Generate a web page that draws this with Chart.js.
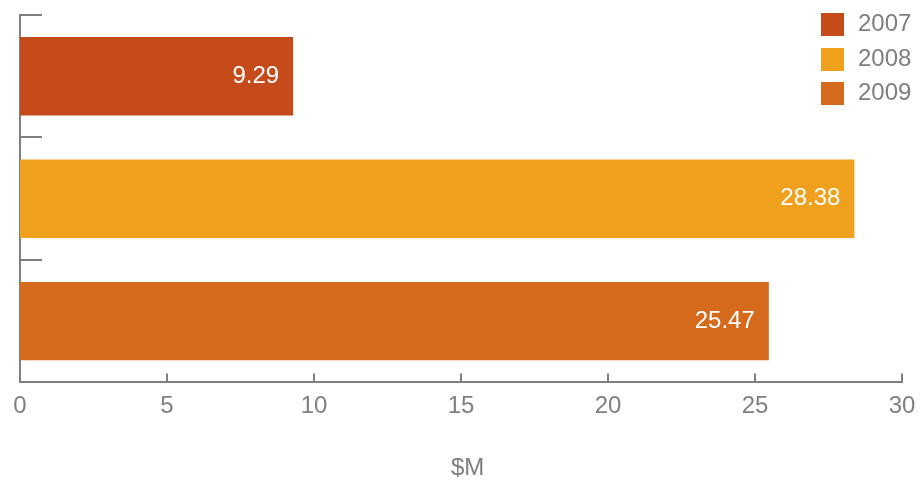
<!DOCTYPE html>
<html>
<head>
<meta charset="utf-8">
<style>
  html, body { margin: 0; padding: 0; background: #ffffff; }
  #wrap { width: 923px; height: 483px; }
</style>
<script src="https://cdn.jsdelivr.net/npm/chart.js@4/dist/chart.umd.min.js"></script>
</head>
<body>
<div id="wrap"><canvas id="chart" width="923" height="483"></canvas></div>
<script>
// Yearly totals in millions of dollars
const years = ['2007', '2008', '2009'];
const values = [9.29, 28.38, 25.47];
const colors = ['#C64B1B', '#EFA01C', '#D56A1D'];
const xTicks = [0, 5, 10, 15, 20, 25, 30];
const axisTitle = '$M';

const GREY = '#7f7f7f';
const FONT = '"Liberation Sans", Arial, Helvetica, sans-serif';

// one dataset per year so every year gets its own legend entry
const datasets = years.map((y, i) => ({
  label: y,
  data: years.map((_, j) => (j === i ? values[i] : null)),
  backgroundColor: colors[i],
  borderWidth: 0,
  barPercentage: 0.64,
  categoryPercentage: 1,
  grouped: false
}));

// inward tick marks on both axes
const axisTicks = {
  id: 'axisTicks',
  afterDraw(chart) {
    const ctx = chart.ctx;
    const xs = chart.scales.x, ys = chart.scales.y;
    ctx.save();
    ctx.strokeStyle = GREY;
    ctx.lineWidth = 2;
    ctx.beginPath();
    for (let i = 0; i < years.length; i++) {
      const y = i === 0 ? ys.top : (ys.getPixelForValue(i - 1) + ys.getPixelForValue(i)) / 2;
      const yy = Math.round(y);
      ctx.moveTo(ys.right, yy);
      ctx.lineTo(ys.right + 22, yy);
    }
    xs.ticks.forEach(t => {
      const x = Math.round(xs.getPixelForValue(t.value));
      ctx.moveTo(x, xs.top);
      ctx.lineTo(x, xs.top - 9);
    });
    ctx.stroke();
    ctx.restore();
  }
};

// white value labels inside the end of each bar
const barValues = {
  id: 'barValues',
  afterDatasetsDraw(chart) {
    const ctx = chart.ctx;
    ctx.save();
    ctx.font = '24px ' + FONT;
    ctx.fillStyle = '#ffffff';
    ctx.textAlign = 'right';
    ctx.textBaseline = 'middle';
    chart.data.datasets.forEach((ds, i) => {
      const meta = chart.getDatasetMeta(i);
      meta.data.forEach((bar, j) => {
        const v = ds.data[j];
        if (v === null || v === undefined) return;
        ctx.fillText(v.toFixed(2), bar.x - 14, bar.y);
      });
    });
    ctx.restore();
  }
};

// legend in the top-right corner, over the plot
const cornerLegend = {
  id: 'cornerLegend',
  afterDraw(chart) {
    const ctx = chart.ctx;
    const boxX = chart.chartArea.right - 81;
    const top = 13;
    const step = 34.5;
    const size = 23;
    ctx.save();
    ctx.font = '24px ' + FONT;
    ctx.textAlign = 'left';
    ctx.textBaseline = 'middle';
    chart.data.datasets.forEach((ds, i) => {
      const y = top + i * step;
      ctx.fillStyle = ds.backgroundColor;
      ctx.fillRect(boxX, Math.round(y), size, size);
      ctx.fillStyle = GREY;
      ctx.fillText(ds.label, boxX + 37, y + size / 2);
    });
    ctx.restore();
  }
};

new Chart(document.getElementById('chart'), {
  type: 'bar',
  data: { labels: years, datasets },
  options: {
    indexAxis: 'y',
    responsive: false,
    animation: false,
    devicePixelRatio: 1,
    layout: { padding: { left: 20, right: 21, top: 15, bottom: 0 } },
    plugins: {
      legend: { display: false },
      tooltip: { enabled: false }
    },
    scales: {
      y: {
        type: 'category',
        z: 1,
        offset: true,
        grid: { display: false, drawTicks: false },
        ticks: { display: false },
        border: { display: true, color: GREY, width: 2 }
      },
      x: {
        type: 'linear',
        z: 1,
        min: xTicks[0],
        max: xTicks[xTicks.length - 1],
        afterBuildTicks(scale) { scale.ticks = xTicks.map(v => ({ value: v })); },
        // end labels fit inside the outer padding, so no extra room is reserved for them
        afterFit(scale) { scale.paddingLeft = 0; scale.paddingRight = 0; },
        grid: { display: false, drawTicks: false },
        border: { display: true, color: GREY, width: 2 },
        ticks: {
          color: GREY,
          padding: 10,
          maxRotation: 0,
          font: { family: FONT, size: 24 }
        },
        title: {
          display: true,
          text: '\u00a0\u00a0' + axisTitle,
          color: GREY,
          padding: { top: 23, bottom: 0 },
          font: { family: FONT, size: 24 }
        }
      }
    }
  },
  plugins: [axisTicks, barValues, cornerLegend]
});
</script>
</body>
</html>
